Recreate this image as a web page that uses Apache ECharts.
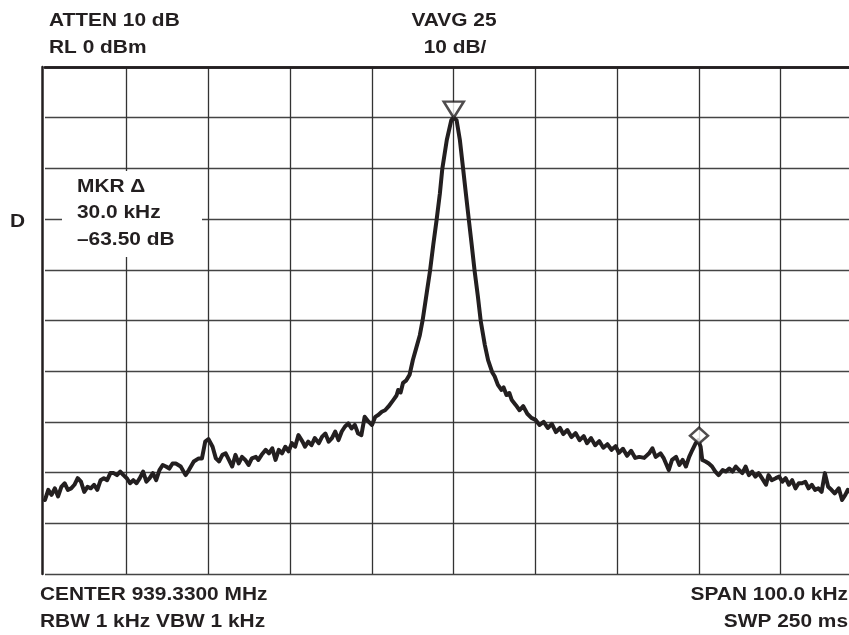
<!DOCTYPE html>
<html>
<head>
<meta charset="utf-8">
<script src="https://cdn.jsdelivr.net/npm/echarts@6/dist/echarts.min.js"></script>
<style>
  html, body { margin: 0; padding: 0; background: #fff; }
  #chart { width: 849px; height: 635px; }
</style>
</head>
<body>
<div id="chart"></div>
<script>
// offset from center frequency (kHz) and level (dB)
var traceKhz = [
  -50.0, -49.6, -49.2, -48.8, -48.4, -48.0, -47.6, -47.2, -46.8, -46.4,
  -46.0, -45.6, -45.2, -44.8, -44.4, -44.0, -43.6, -43.2, -42.8, -42.4,
  -42.0, -41.6, -41.2, -40.8, -40.4, -40.0, -39.6, -39.2, -38.8, -38.4,
  -38.0, -37.6, -37.2, -36.8, -36.4, -36.0, -35.6, -35.2, -34.8, -34.4,
  -34.0, -33.4, -32.8, -32.4, -31.8, -31.2, -30.8, -30.4, -30.0, -29.5,
  -29.1, -28.7, -28.3, -27.9, -27.5, -27.1, -26.7, -26.3, -25.9, -25.5,
  -25.1, -24.7, -24.2, -23.9, -23.5, -23.0, -22.6, -22.2, -21.8, -21.4,
  -21.0, -20.6, -20.2, -19.8, -19.4, -19.0, -18.5, -18.2, -17.8, -17.4,
  -17.0, -16.5, -16.1, -15.7, -15.3, -14.9, -14.5, -14.1, -13.7, -13.3,
  -12.9, -12.5, -12.1, -11.7, -11.3, -10.9, -10.4, -10.0, -9.6, -9.2,
  -8.8, -8.4, -8.0, -7.4, -7.0, -6.8, -6.5, -6.2, -5.8, -5.4,
  -5.0, -4.6, -4.15, -3.8, -3.3, -2.9, -2.5, -2.1, -1.7, -1.4,
  -0.85, -0.3, 0.0, 0.35, 0.75, 1.15, 1.5, 1.85, 2.2, 2.55,
  2.95, 3.3, 3.8, 4.2, 4.7, 5.0, 5.4, 5.85, 6.1, 6.45,
  6.8, 7.1, 7.6, 8.05, 8.5, 9.0, 9.5, 10.0, 10.5, 11.0,
  11.5, 12.0, 12.5, 13.0, 13.4, 13.9, 14.4, 14.9, 15.4, 15.9,
  16.3, 16.8, 17.3, 17.8, 18.3, 18.8, 19.3, 19.8, 20.2, 20.7,
  21.2, 21.7, 22.2, 22.7, 23.3, 23.9, 24.3, 24.7, 25.3, 25.7,
  26.3, 26.7, 27.2, 27.6, 28.0, 28.4, 28.8, 29.2, 29.6, 29.9,
  30.2, 30.4, 30.8, 31.2, 31.6, 32.0, 32.4, 32.9, 33.3, 33.7,
  34.1, 34.5, 34.9, 35.3, 35.7, 36.1, 36.5, 36.9, 37.3, 37.7,
  38.2, 38.5, 38.9, 39.4, 39.8, 40.2, 40.6, 41.0, 41.4, 41.8,
  42.2, 42.6, 43.0, 43.4, 43.8, 44.2, 44.6, 45.0, 45.4, 45.8,
  46.2, 46.6, 47.1, 47.5, 47.9, 48.2, 48.6, 49.0, 49.5, 50.0
];
var traceDb = [
  -85.4, -83.4, -84.4, -83.1, -84.7, -82.8, -82.1, -83.4, -83.1, -82.4,
  -81.1, -81.8, -83.8, -82.8, -83.1, -82.4, -83.4, -81.5, -81.1, -81.5,
  -80.1, -80.1, -80.5, -79.8, -80.5, -81.1, -82.1, -81.5, -82.1, -81.1,
  -79.8, -81.8, -81.1, -80.1, -81.5, -79.5, -78.5, -78.8, -79.2, -78.2,
  -78.2, -78.8, -80.5, -79.5, -77.8, -77.2, -77.2, -73.9, -73.4, -74.9,
  -77.2, -77.8, -76.5, -76.2, -77.5, -78.8, -76.5, -78.2, -76.9, -77.5,
  -78.5, -77.2, -76.9, -77.5, -76.5, -75.5, -76.2, -75.2, -77.5, -75.5,
  -76.2, -74.9, -75.8, -74.2, -74.9, -72.6, -73.9, -74.9, -73.9, -74.6,
  -73.2, -74.2, -72.9, -72.3, -73.9, -73.2, -71.9, -73.6, -71.9, -70.9,
  -70.3, -71.3, -70.6, -72.3, -72.6, -69.0, -70.0, -70.6, -69.0, -68.6,
  -68.0, -67.7, -67.0, -65.7, -64.8, -63.7, -64.2, -62.3, -61.8, -60.7,
  -57.8, -55.5, -52.9, -49.9, -44.5, -40.2, -35.0, -30.2, -25.0, -20.1,
  -14.4, -10.5, -10.0, -10.5, -14.4, -20.1, -25.2, -30.2, -35.1, -40.2,
  -45.2, -50.1, -54.8, -57.8, -60.2, -61.0, -62.7, -63.7, -63.2, -64.7,
  -64.3, -65.7, -66.7, -67.7, -66.9, -68.4, -69.2, -69.6, -70.6, -70.0,
  -71.2, -70.4, -72.0, -71.2, -72.4, -71.6, -73.0, -72.2, -73.6, -72.8,
  -74.2, -73.2, -74.6, -73.8, -75.1, -74.4, -75.5, -74.8, -76.1, -75.3,
  -76.7, -75.7, -77.1, -76.9, -77.1, -76.2, -75.2, -76.9, -76.2, -77.2,
  -79.5, -77.5, -76.9, -78.5, -77.5, -78.8, -76.9, -75.5, -74.2, -73.6,
  -74.9, -77.5, -77.8, -78.2, -78.8, -79.8, -80.5, -79.5, -79.8, -79.2,
  -79.8, -78.8, -79.5, -80.1, -78.8, -80.5, -79.8, -80.8, -80.1, -81.1,
  -82.4, -80.5, -81.5, -81.1, -80.8, -81.8, -81.1, -82.4, -81.5, -83.1,
  -82.1, -82.1, -81.8, -83.1, -82.4, -83.4, -83.1, -83.8, -80.1, -82.8,
  -83.4, -84.1, -83.1, -85.4, -84.4, -83.4, -84.0, -84.6, -84.0, -85.0
];
var peakKhz = [0];
var peakDb = [-10];
var deltaKhz = [30];
var deltaDb = [-73.5];

var ink = "#231f20";
// screen shows -50..+48.35 kHz, the right end of the graticule is cut off
var xMin = -50;
var xMax = 48.35;

function pairs(xs, ys) {
  return xs.map(function (x, i) {
    return [x, ys[i]];
  });
}

function label(text, x, y, align) {
  return {
    type: "text",
    x: x,
    y: y,
    scaleX: 1.16,
    z: 10,
    style: {
      text: text,
      font: 'bold 18px "Liberation Sans", Arial, sans-serif',
      fill: ink,
      align: align,
      textAlign: align,
      verticalAlign: "middle",
      textVerticalAlign: "middle",
    },
  };
}

var chart = echarts.init(document.getElementById("chart"));
var option = {
  animation: false,
  backgroundColor: "#fff",
  grid: {
    left: 45,
    top: 67,
    right: 0,
    bottom: 61,
  },
  xAxis: [
    {
      type: "value",
      min: xMin,
      max: xMax,
      interval: 10,
      axisLine: { show: true, lineStyle: { color: ink, width: 2.5 } },
      axisTick: { show: false },
      axisLabel: { show: false },
      splitLine: {
        show: true,
        showMinLine: false,
        showMaxLine: false,
        lineStyle: { color: "#333", width: 1.3 },
      },
    },
    {
      type: "value",
      position: "top",
      min: xMin,
      max: xMax,
      axisLine: { show: true, onZero: false, lineStyle: { color: ink, width: 2.5 } },
      axisTick: { show: false },
      axisLabel: { show: false },
      splitLine: { show: false },
    },
  ],
  yAxis: {
    type: "value",
    min: -100,
    max: 0,
    interval: 10,
    offset: 3,
    axisLine: { show: true, onZero: false, lineStyle: { color: ink, width: 2.5 } },
    axisTick: { show: false },
    axisLabel: { show: false },
    splitLine: { show: true, lineStyle: { color: "#444", width: 1.3 } },
  },
  graphic: [
    {
      type: "rect",
      z: 5,
      shape: { x: 62, y: 171, width: 140, height: 86 },
      style: { fill: "#fff" },
    },
    label("ATTEN 10 dB", 49, 21, "left"),
    label("RL 0 dBm", 49, 48, "left"),
    label("VAVG 25", 454, 21, "center"),
    label("10 dB/", 455, 48, "center"),
    label("D", 10, 222, "left"),
    label("MKR \u0394", 77, 187, "left"),
    label("30.0 kHz", 77, 213, "left"),
    label("\u201363.50 dB", 77, 240, "left"),
    label("CENTER 939.3300 MHz", 40, 595, "left"),
    label("RBW 1 kHz VBW 1 kHz", 40, 622, "left"),
    label("SPAN 100.0 kHz", 848, 595, "right"),
    label("SWP 250 ms", 848, 622, "right"),
  ],
  series: [
    {
      type: "line",
      data: pairs(traceKhz, traceDb),
      showSymbol: false,
      z: 2,
      lineStyle: { color: ink, width: 4, join: "round", cap: "round" },
    },
    {
      type: "scatter",
      data: pairs(peakKhz, peakDb),
      symbol: "triangle",
      symbolRotate: 180,
      symbolSize: [20, 16],
      symbolOffset: [0, -8],
      z: 3,
      itemStyle: { color: "#fff", borderColor: ink, borderWidth: 2.5 },
    },
    {
      type: "scatter",
      data: pairs(deltaKhz, deltaDb),
      symbol: "diamond",
      symbolSize: [18, 16],
      symbolOffset: [0, -4],
      z: 3,
      itemStyle: { color: "#fff", borderColor: ink, borderWidth: 2.5 },
    },
  ],
};
chart.setOption(option);
</script>
</body>
</html>
